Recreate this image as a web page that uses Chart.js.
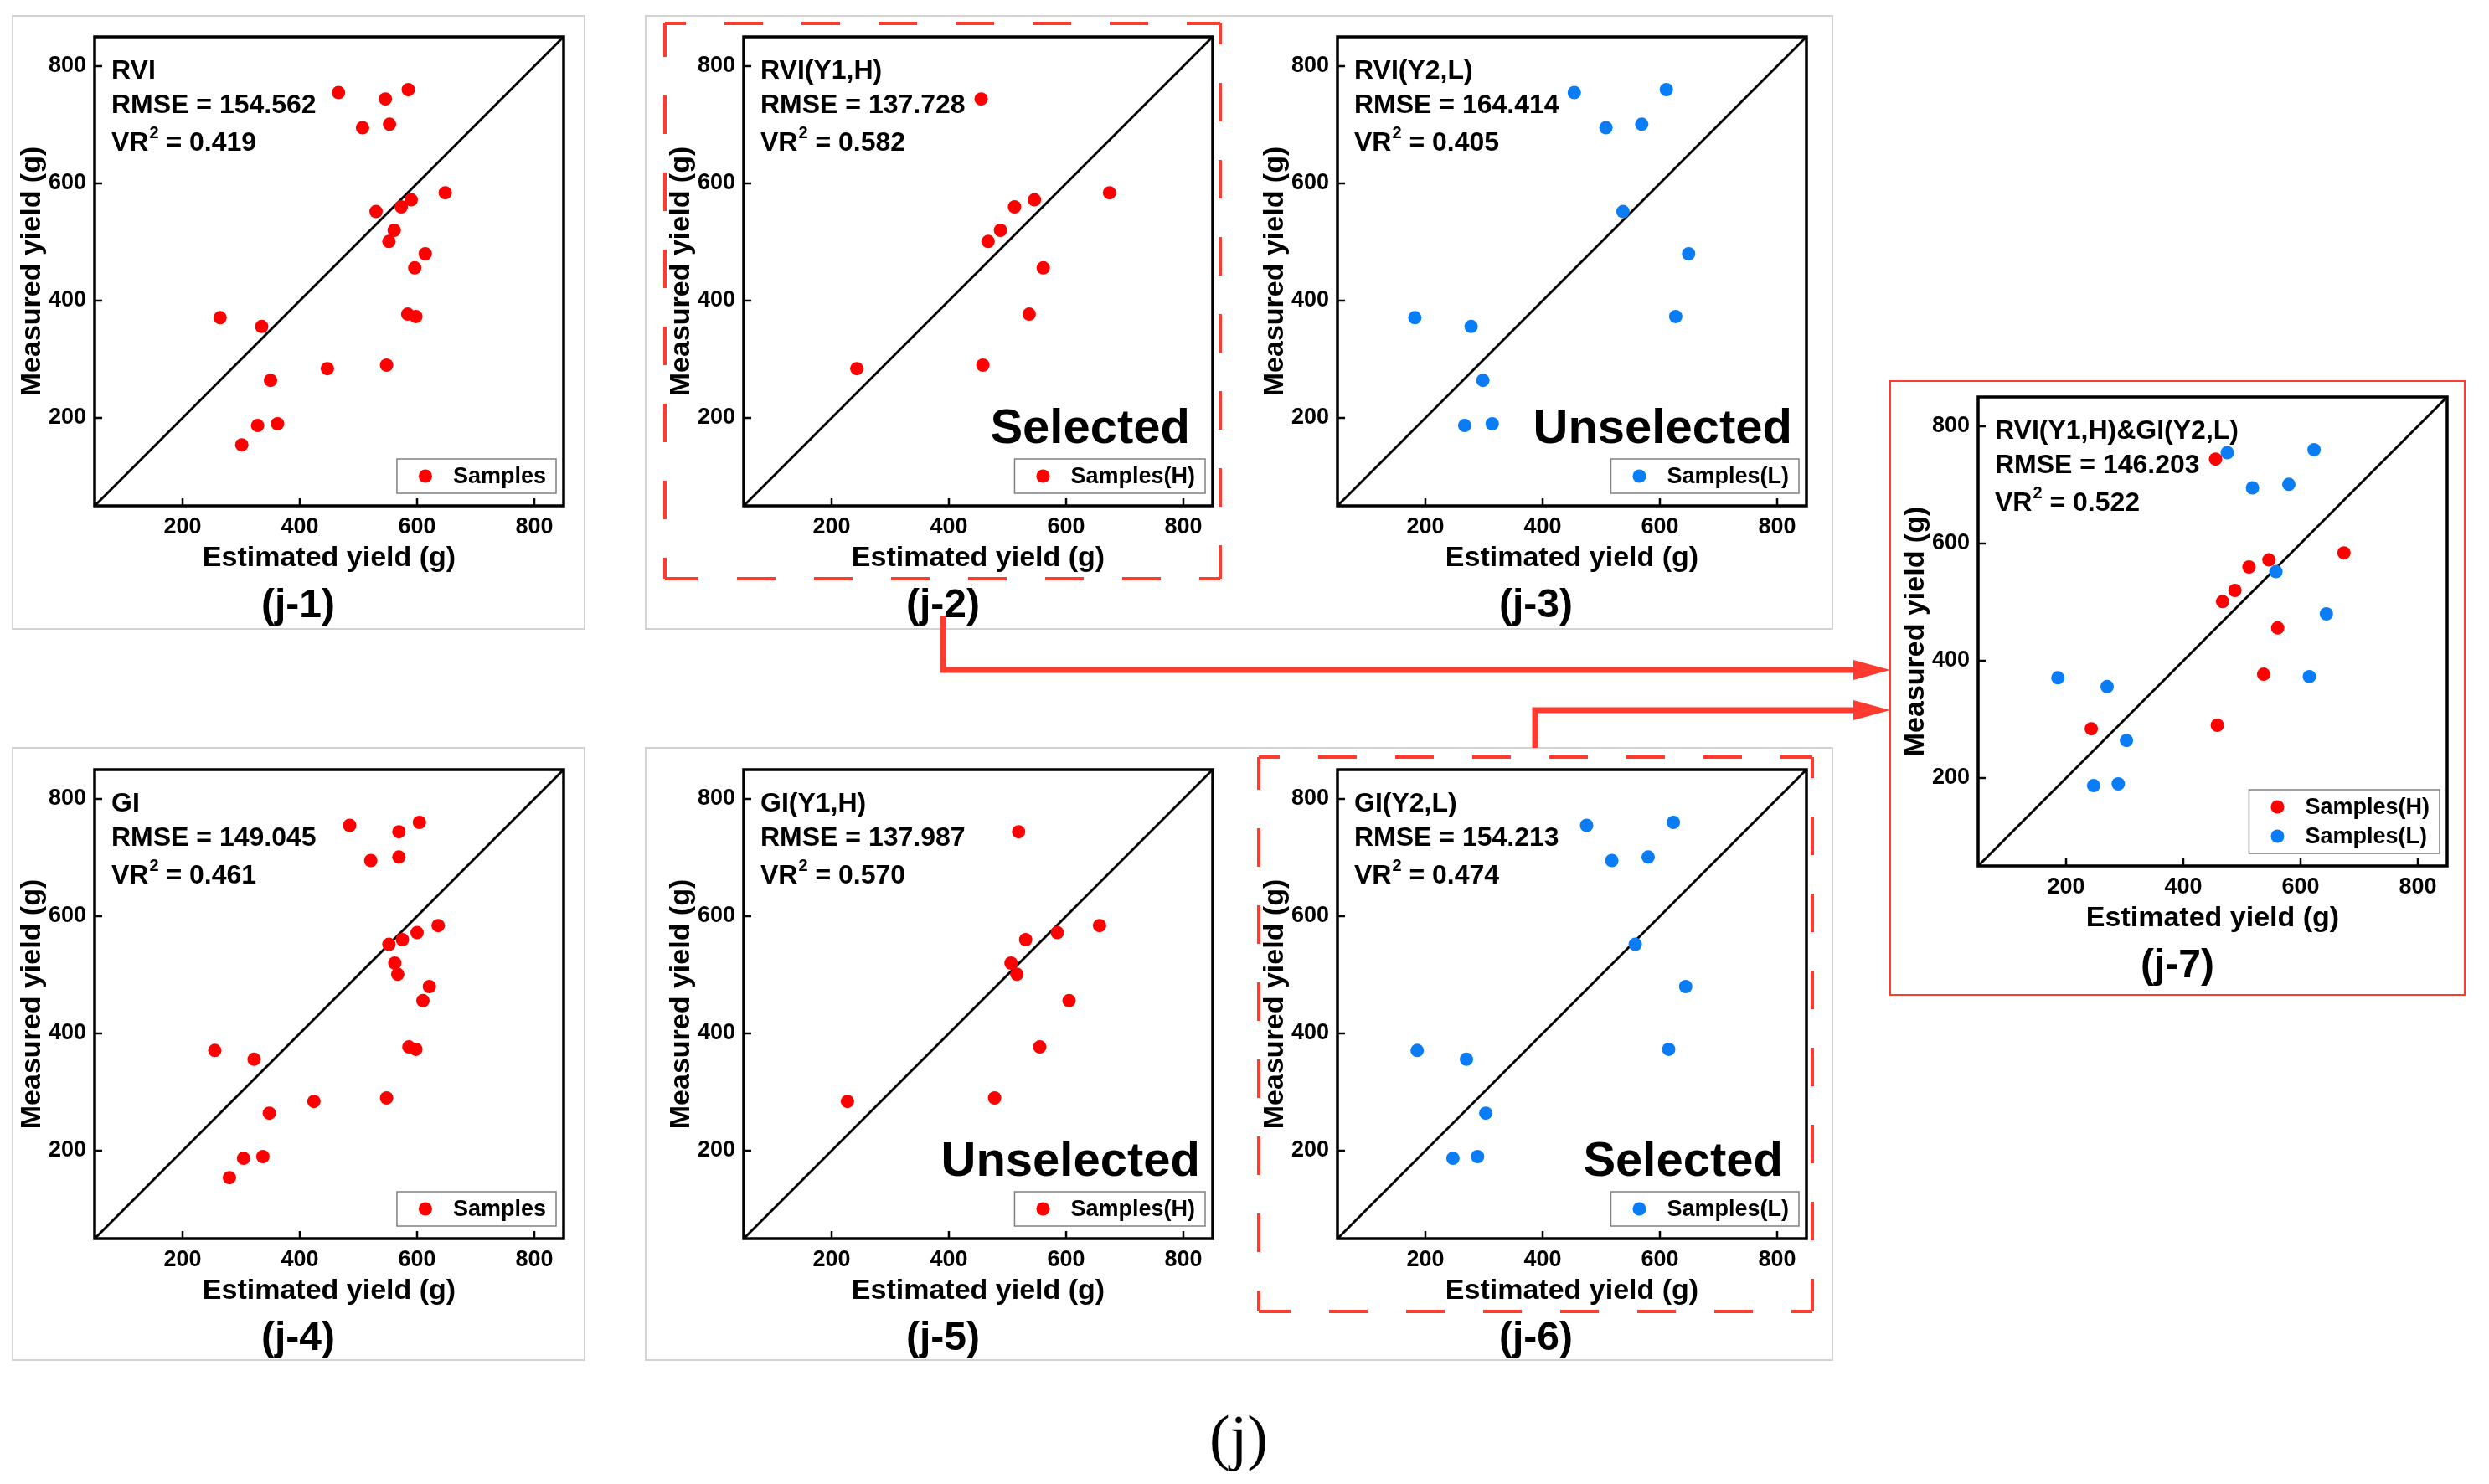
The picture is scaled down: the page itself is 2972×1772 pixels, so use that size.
<!DOCTYPE html>
<html><head><meta charset="utf-8">
<script src="https://cdn.jsdelivr.net/npm/chart.js@4.4.1/dist/chart.umd.min.js"></script>
<style>
html,body{margin:0;padding:0;background:#fff;}
#root{position:relative;width:2972px;height:1772px;overflow:hidden;background:#fff;font-family:"Liberation Sans",Arial,sans-serif;}
canvas{position:absolute;z-index:2;}
svg{position:absolute;left:0;top:0;}
.plabel{position:absolute;z-index:3;font-weight:bold;font-size:48px;line-height:1;transform:translate(-50%,-50%);white-space:nowrap;color:#000;}
.flabel{position:absolute;z-index:3;font-family:"Liberation Serif","Times New Roman",serif;font-size:74px;line-height:1;transform:translate(-50%,-50%);color:#000;}
</style></head><body><div id="root">
<svg id="back" width="2972" height="1772" style="z-index:1"></svg>
<svg id="front" width="2972" height="1772" style="z-index:5"></svg>
</div>
<script>
// ---------------- data ----------------
const tickValues = [200, 400, 600, 800];
const axisMin = 50, axisMax = 850;
const identityLine = [50, 850];

// measured yields (g): high-group samples, low-group samples, extra sample
const measuredH = [744, 584, 572, 560, 520, 501, 456, 377, 284, 290];
const measuredL = [755, 760, 695, 701, 552, 480, 373, 371, 356, 264, 187, 190];
const measuredExtra = [154];
const measuredAll = measuredH.concat(measuredL, measuredExtra);

// estimated yields (g)
const estRVI = [546, 648, 590, 573, 561, 552, 596, 584, 447, 548,
                466, 585, 507, 553, 530, 614, 598, 264, 335, 350, 328, 362,
                301];
const estGI = [569, 636, 600, 575, 562, 567, 610, 586, 424, 548,
               485, 604, 521, 569, 552, 621, 598, 255, 322, 348, 304, 337,
               280];
const estRVI_Y1H = [455, 674, 546, 512, 488, 467, 561, 537, 243, 458];
const estRVI_Y2L = [454, 611, 508, 569, 537, 649, 627, 182, 278, 298, 267, 314];
const estGI_Y1H = [519, 657, 585, 531, 506, 516, 605, 555, 227, 478];
const estGI_Y2L = [475, 623, 518, 580, 558, 644, 615, 186, 270, 303, 247, 289];

const panelTitles = ['RVI', 'RVI(Y1,H)', 'RVI(Y2,L)', 'GI', 'GI(Y1,H)', 'GI(Y2,L)', 'RVI(Y1,H)&GI(Y2,L)'];
const rmseValues = ['154.562', '137.728', '164.414', '149.045', '137.987', '154.213', '146.203'];
const vr2Values = ['0.419', '0.582', '0.405', '0.461', '0.570', '0.474', '0.522'];
const panelTags = ['(j-1)', '(j-2)', '(j-3)', '(j-4)', '(j-5)', '(j-6)', '(j-7)'];
const selectionTags = ['', 'Selected', 'Unselected', '', 'Unselected', 'Selected', ''];
const seriesLabels = ['Samples', 'Samples(H)', 'Samples(L)'];
const xTitle = 'Estimated yield (g)';
const yTitle = 'Measured yield (g)';
const figTag = '(j)';

// ---------------- style / layout ----------------
const RED = '#ff0000', BLUE = '#0a7cf6', ARROW = '#ff3b30';
const FONT = '"Liberation Sans", Arial, sans-serif';
const PLOT = 560;
Chart.defaults.font.family = FONT;

const panels = [
  {i:0, left:113,  top:44,  series:[{lab:0, est:estRVI,     meas:measuredAll, color:RED}],  tag:[356,721]},
  {i:1, left:888,  top:44,  series:[{lab:1, est:estRVI_Y1H, meas:measuredH,   color:RED}],  tag:[1126,721], bigRight:27},
  {i:2, left:1597, top:44,  series:[{lab:2, est:estRVI_Y2L, meas:measuredL,   color:BLUE}], tag:[1834,721], bigRight:17},
  {i:3, left:113,  top:919, series:[{lab:0, est:estGI,      meas:measuredAll, color:RED}],  tag:[356,1596]},
  {i:4, left:888,  top:919, series:[{lab:1, est:estGI_Y1H,  meas:measuredH,   color:RED}],  tag:[1126,1596], bigRight:15},
  {i:5, left:1597, top:919, series:[{lab:2, est:estGI_Y2L,  meas:measuredL,   color:BLUE}], tag:[1834,1596], bigRight:28},
  {i:6, left:2362, top:474, series:[{lab:1, est:estRVI_Y1H, meas:measuredH,   color:RED},
                                    {lab:2, est:estGI_Y2L,  meas:measuredL,   color:BLUE}], tag:[2600,1151]}
];

const framePlugin = {
  id: 'frame',
  afterDatasetsDraw(chart, args, opts) {
    const ctx = chart.ctx, a = chart.chartArea, xs = chart.scales.x, ys = chart.scales.y;
    ctx.save();
    ctx.strokeStyle = '#000';
    ctx.lineWidth = 3.5;
    ctx.strokeRect(a.left, a.top, a.right - a.left, a.bottom - a.top);
    ctx.lineWidth = 2.5;
    tickValues.forEach(v => {
      const px = xs.getPixelForValue(v);
      ctx.beginPath(); ctx.moveTo(px, a.bottom); ctx.lineTo(px, a.bottom - 9); ctx.stroke();
      const py = ys.getPixelForValue(v);
      ctx.beginPath(); ctx.moveTo(a.left, py); ctx.lineTo(a.left + 9, py); ctx.stroke();
    });
    // annotation text
    ctx.fillStyle = '#000';
    ctx.textAlign = 'left';
    ctx.textBaseline = 'alphabetic';
    const tx = a.left + 20;
    ctx.font = 'bold 32px ' + FONT;
    ctx.fillText(opts.title, tx, a.top + 50);
    ctx.fillText('RMSE = ' + opts.rmse, tx, a.top + 91);
    ctx.fillText('VR', tx, a.top + 136);
    const w1 = ctx.measureText('VR').width;
    ctx.font = 'bold 20px ' + FONT;
    ctx.fillText('2', tx + w1 + 1, a.top + 121);
    const w2 = ctx.measureText('2').width;
    ctx.font = 'bold 32px ' + FONT;
    ctx.fillText(' = ' + opts.vr2, tx + w1 + 1 + w2, a.top + 136);
    if (opts.big) {
      ctx.font = 'bold 58px ' + FONT;
      ctx.textAlign = 'right';
      ctx.fillText(opts.big, a.right - opts.bigRight, a.bottom - 75);
    }
    // legend
    const items = chart.data.datasets.filter(d => d.type !== 'line');
    ctx.font = 'bold 27px ' + FONT;
    const tw = Math.max(...items.map(d => ctx.measureText(d.label).width));
    const bw = 67 + tw + 12, bh = 6 + items.length * 35;
    const bx = a.right - 9 - bw, by = a.bottom - 15 - bh;
    ctx.fillStyle = '#fff';
    ctx.fillRect(bx, by, bw, bh);
    ctx.strokeStyle = '#808080';
    ctx.lineWidth = 1.5;
    ctx.strokeRect(bx, by, bw, bh);
    items.forEach((d, k) => {
      const cy = by + 3 + 17.5 + k * 35;
      ctx.fillStyle = d.backgroundColor;
      ctx.beginPath(); ctx.arc(bx + 34, cy, 8, 0, Math.PI * 2); ctx.fill();
      ctx.fillStyle = '#000';
      ctx.textAlign = 'left';
      ctx.textBaseline = 'middle';
      ctx.fillText(d.label, bx + 67, cy + 1);
    });
    ctx.restore();
  }
};

const root = document.getElementById('root');

function axisOpts(isX) {
  return {
    type: 'linear',
    position: isX ? 'bottom' : 'left',
    min: axisMin, max: axisMax,
    afterBuildTicks: s => { s.ticks = tickValues.map(v => ({value: v})); },
    afterFit: s => {
      if (isX) { s.height = 100; s.paddingLeft = 0; s.paddingRight = 0; }
      else { s.width = 110; s.paddingTop = 0; s.paddingBottom = 0; }
    },
    grid: {display: false, drawTicks: false},
    border: {display: false},
    ticks: {color: '#000', autoSkip: false, maxRotation: 0, padding: isX ? 9 : 10,
            font: {family: FONT, size: 27, weight: 'bold'}},
    title: {display: true, text: isX ? xTitle : yTitle, color: '#000',
            font: {family: FONT, size: 34, weight: 'bold'},
            padding: isX ? {top: 0, bottom: 17} : {top: 15, bottom: 0}}
  };
}

panels.forEach(p => {
  const cv = document.createElement('canvas');
  const W = 110 + PLOT + 10, H = 10 + PLOT + 100;
  cv.width = W; cv.height = H;
  cv.style.width = W + 'px'; cv.style.height = H + 'px';
  cv.style.left = (p.left - 110) + 'px';
  cv.style.top = (p.top - 10) + 'px';
  root.appendChild(cv);
  const datasets = p.series.map(s => ({
    type: 'scatter',
    label: seriesLabels[s.lab],
    data: s.est.map((x, k) => ({x: x, y: s.meas[k]})),
    backgroundColor: s.color, borderColor: s.color,
    pointRadius: 8, pointHoverRadius: 8, borderWidth: 0
  }));
  datasets.push({
    type: 'line', label: '1:1',
    data: identityLine.map(v => ({x: v, y: v})),
    borderColor: '#000', borderWidth: 3, pointRadius: 0, showLine: true, fill: false
  });
  new Chart(cv, {
    type: 'scatter',
    data: {datasets},
    options: {
      responsive: false, animation: false, devicePixelRatio: 1,
      layout: {padding: {left: 0, right: 10, top: 10, bottom: 0}},
      plugins: {
        legend: {display: false}, tooltip: {enabled: false},
        frame: {title: panelTitles[p.i], rmse: rmseValues[p.i], vr2: vr2Values[p.i],
                big: selectionTags[p.i], bigRight: p.bigRight || 0}
      },
      scales: {x: axisOpts(true), y: axisOpts(false)}
    },
    plugins: [framePlugin]
  });
  const lab = document.createElement('div');
  lab.className = 'plabel';
  lab.textContent = panelTags[p.i];
  lab.style.left = p.tag[0] + 'px';
  lab.style.top = p.tag[1] + 'px';
  root.appendChild(lab);
});

const fl = document.createElement('div');
fl.className = 'flabel';
fl.textContent = figTag;
fl.style.left = '1479px'; fl.style.top = '1716px';
root.appendChild(fl);

// ---------------- frames and arrows ----------------
const NS = 'http://www.w3.org/2000/svg';
function el(svg, name, attrs) {
  const e = document.createElementNS(NS, name);
  for (const k in attrs) e.setAttribute(k, attrs[k]);
  svg.appendChild(e);
  return e;
}
const back = document.getElementById('back');
const front = document.getElementById('front');
[[15,19,698,751],[771,19,2188,751],[15,893,698,1624],[771,893,2188,1624]].forEach(b => {
  el(back, 'rect', {x:b[0], y:b[1], width:b[2]-b[0], height:b[3]-b[1], fill:'none', stroke:'#d2d2d2', 'stroke-width':2});
});
el(front, 'rect', {x:2257, y:455, width:686, height:733, fill:'none', stroke:ARROW, 'stroke-width':2});
[[794,28,1457,691],[1503,904,2164,1566]].forEach(b => {
  const [x1,y1,x2,y2] = b;
  [[x1,y1,x2,y1],[x2,y1,x2,y2],[x2,y2,x1,y2],[x1,y2,x1,y1]].forEach(s => {
    el(front, 'line', {x1:s[0], y1:s[1], x2:s[2], y2:s[3], stroke:ARROW, 'stroke-width':4,
      'stroke-dasharray':'46 46', 'stroke-dashoffset':21});
  });
});
function arrow(xv, yStart, yLine, xTip) {
  el(front, 'polyline', {points:`${xv},${yStart} ${xv},${yLine} ${xTip-40},${yLine}`, fill:'none',
    stroke:ARROW, 'stroke-width':7, 'stroke-linejoin':'miter'});
  el(front, 'polygon', {points:`${xTip-44},${yLine-12} ${xTip},${yLine} ${xTip-44},${yLine+12}`, fill:ARROW});
}
arrow(1126, 735, 800, 2257);
arrow(1833, 893, 848, 2257);
</script></body></html>
